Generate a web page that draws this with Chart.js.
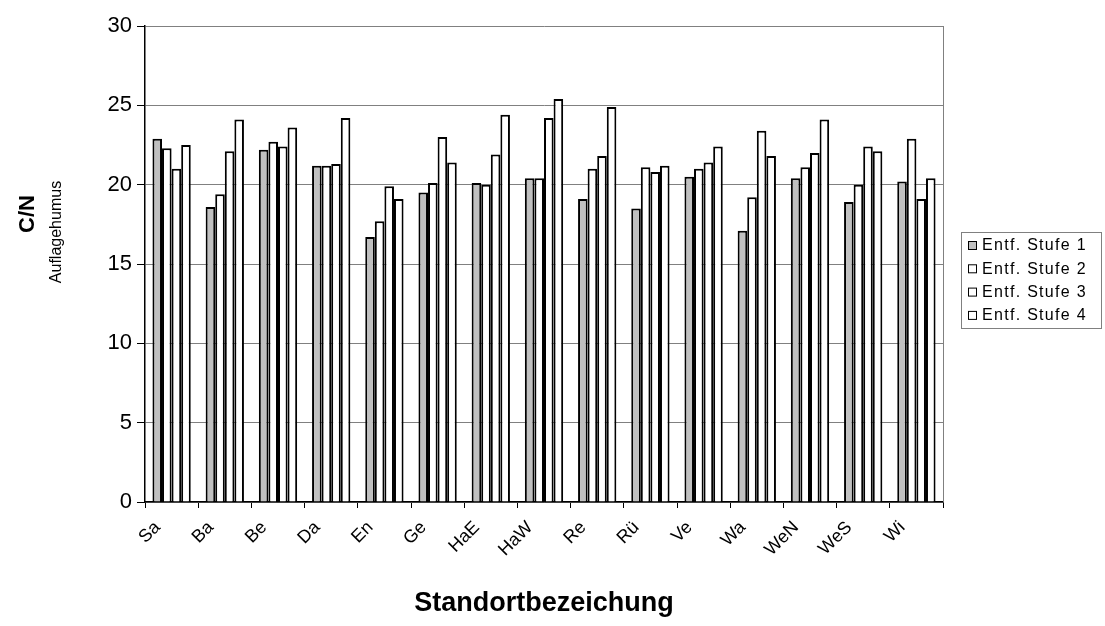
<!DOCTYPE html>
<html>
<head>
<meta charset="utf-8">
<script src="https://cdn.jsdelivr.net/npm/chart.js@4"></script>
<style>
  html, body { margin: 0; padding: 0; background: #fff; }
  #wrap { width: 1105px; height: 626px; position: relative; }
</style>
</head>
<body>
<div id="wrap"><canvas id="cnChart"></canvas></div>
<script>
const standorte = ["Sa", "Ba", "Be", "Da", "En", "Ge", "HaE", "HaW", "Re", "Rü", "Ve", "Wa", "WeN", "WeS", "Wi"]
const stufe1 = [22.9, 18.6, 22.2, 21.2, 16.7, 19.5, 20.1, 20.4, 19.1, 18.5, 20.5, 17.1, 20.4, 18.9, 20.2]
const stufe2 = [22.3, 19.4, 22.7, 21.2, 17.7, 20.1, 20.0, 20.4, 21.0, 21.1, 21.0, 19.2, 21.1, 20.0, 22.9]
const stufe3 = [21.0, 22.1, 22.4, 21.3, 19.9, 23.0, 21.9, 24.2, 21.8, 20.8, 21.4, 23.4, 22.0, 22.4, 19.1]
const stufe4 = [22.5, 24.1, 23.6, 24.2, 19.1, 21.4, 24.4, 25.4, 24.9, 21.2, 22.4, 21.8, 24.1, 22.1, 20.4]
const serienNamen = ["Entf. Stufe 1", "Entf. Stufe 2", "Entf. Stufe 3", "Entf. Stufe 4"]
const yTicks = [0, 5, 10, 15, 20, 25, 30]

const FONT = "'Liberation Sans', Arial, sans-serif"

// y-axis title (two fonts) + legend box + plot border, drawn by hand
const extrasPlugin = {
  id: "extras",
  afterDraw(chart) {
    const ctx = chart.ctx
    const area = chart.chartArea
    ctx.save()

    // right border of plot area
    ctx.strokeStyle = "#808080"
    ctx.lineWidth = 1
    ctx.beginPath()
    ctx.moveTo(Math.round(area.right) + 0.5, area.top)
    ctx.lineTo(Math.round(area.right) + 0.5, area.bottom)
    ctx.stroke()

    // y title
    ctx.fillStyle = "#000"
    ctx.textAlign = "center"
    ctx.textBaseline = "middle"
    ctx.save()
    ctx.translate(28, 214)
    ctx.rotate(-Math.PI / 2)
    ctx.font = "bold 22px " + FONT
    ctx.fillText("C/N", 0, 0)
    ctx.restore()
    ctx.save()
    ctx.translate(57, 232)
    ctx.rotate(-Math.PI / 2)
    ctx.font = "16px " + FONT
    ctx.fillText("Auflagehumus", 0, 0)
    ctx.restore()

    // legend
    const lx = 961.5, ly = 232.5, lw = 140, lh = 96
    ctx.strokeStyle = "#808080"
    ctx.strokeRect(lx, ly, lw, lh)
    ctx.font = "16px " + FONT
    ctx.letterSpacing = "1.3px"
    ctx.textAlign = "left"
    chart.data.datasets.forEach((ds, i) => {
      const cy = 245 + i * 23.3
      ctx.fillStyle = ds.backgroundColor
      ctx.fillRect(968, cy - 4, 9, 9)
      ctx.strokeStyle = "#000"
      ctx.lineWidth = 1
      ctx.strokeRect(968.5, cy - 3.5, 8, 8)
      ctx.fillStyle = "#000"
      ctx.fillText(ds.label, 982, cy + 1)
    })
    ctx.restore()
  }
}

const reihen = [stufe1, stufe2, stufe3, stufe4]
const fuellung = ["#c0c0c0", "#ffffff", "#ffffff", "#ffffff"]

new Chart(document.getElementById("cnChart"), {
  type: "bar",
  data: {
    labels: standorte,
    datasets: reihen.map((werte, i) => ({
      label: serienNamen[i],
      data: werte,
      backgroundColor: fuellung[i],
      borderColor: "#000000",
      borderWidth: 2,
      borderSkipped: "bottom",
      categoryPercentage: 0.72,
      barPercentage: 1.0
    }))
  },
  options: {
    responsive: true,
    maintainAspectRatio: false,
    animation: false,
    layout: { padding: { left: 0, right: 162, top: 26, bottom: 0 } },
    plugins: {
      legend: { display: false },
      tooltip: { enabled: false }
    },
    scales: {
      x: {
        grid: {
          offset: true,
          drawOnChartArea: false,
          drawTicks: true,
          tickLength: 6,
          tickColor: "#000"
        },
        border: { color: "#000", width: 1.5 },
        ticks: {
          color: "#000",
          font: { family: FONT, size: 18 },
          minRotation: 45,
          maxRotation: 45,
          labelOffset: -14,
          padding: 9
        },
        title: {
          display: true,
          text: "Standortbezeichung",
          color: "#000",
          font: { family: FONT, size: 27, weight: "bold" },
          padding: { top: 0, bottom: 6 }
        },
        afterFit(scale) { scale.height = 124 }
      },
      y: {
        min: 0,
        max: 30,
        afterBuildTicks(scale) { scale.ticks = yTicks.map(v => ({ value: v })) },
        grid: {
          color: "#808080",
          lineWidth: 1,
          tickLength: 8,
          tickColor: "#000"
        },
        border: { color: "#000", width: 1.5 },
        ticks: {
          color: "#000",
          font: { family: FONT, size: 22 },
          padding: 5
        },
        afterFit(scale) { scale.width = 145 }
      }
    }
  },
  plugins: [extrasPlugin]
})
</script>
</body>
</html>
